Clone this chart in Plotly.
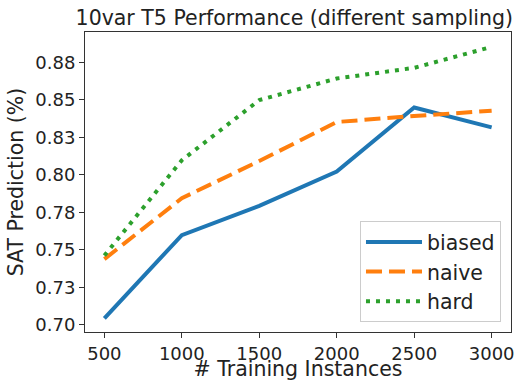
import plotly.graph_objects as go

train_sizes = [500, 1000, 1500, 2000, 2500, 3000]
biased = [0.7044, 0.7599, 0.7794, 0.8022, 0.8450, 0.8317]
naive = [0.7439, 0.7845, 0.8093, 0.8353, 0.8393, 0.8428]
hard = [0.7463, 0.8098, 0.8499, 0.8643, 0.8714, 0.8854]

y_tickvals = [0.700, 0.725, 0.750, 0.775, 0.800, 0.825, 0.850, 0.875]
y_ticktext = ["0.70", "0.73", "0.75", "0.78", "0.80", "0.83", "0.85", "0.88"]
x_tickvals = [500, 1000, 1500, 2000, 2500, 3000]

font = "DejaVu Sans"
fig = go.Figure()
fig.add_trace(go.Scatter(x=train_sizes, y=biased, mode="lines", name="biased",
                         line=dict(color="#1f77b4", width=4)))
fig.add_trace(go.Scatter(x=train_sizes, y=naive, mode="lines", name="naive",
                         line=dict(color="#ff7f0e", width=4, dash="16px,7px")))
fig.add_trace(go.Scatter(x=train_sizes, y=hard, mode="lines", name="hard",
                         line=dict(color="#2ca02c", width=4, dash="4px,6px")))

axis_common = dict(showline=True, linecolor="#333333", linewidth=1, mirror=True,
                   ticks="outside", ticklen=5, tickcolor="#333333", showgrid=False,
                   zeroline=False, automargin=False,
                   tickfont=dict(family=font, size=18, color="#222222"))
fig.update_layout(
    width=520, height=381,
    margin=dict(l=85, r=9, t=32, b=49),
    paper_bgcolor="white", plot_bgcolor="white",
    title=dict(text="10var T5 Performance (different sampling)", x=0.566, xanchor="center",
               y=0.9528, yanchor="middle", font=dict(family=font, size=20.5, color="#222222")),
    xaxis=dict(range=[375, 3125], tickvals=x_tickvals,
               title=dict(text="# Training Instances", standoff=7,
                          font=dict(family=font, size=20.5, color="#222222")), **axis_common),
    yaxis=dict(range=[0.6953, 0.8953], tickvals=y_tickvals, ticktext=y_ticktext,
               title=dict(text="SAT Prediction (%)", standoff=6,
                          font=dict(family=font, size=20.5, color="#222222")), **axis_common),
    legend=dict(x=0.9765, y=0.033, xanchor="right", yanchor="bottom", itemwidth=56,
                bordercolor="#cccccc", borderwidth=1, bgcolor="rgba(255,255,255,0.8)",
                font=dict(family=font, size=20.5, color="#222222")),
)
fig.write_html("out.html", config={"displayModeBar": False},
               post_script="document.body.style.margin='0px';document.body.style.overflow='hidden';")
